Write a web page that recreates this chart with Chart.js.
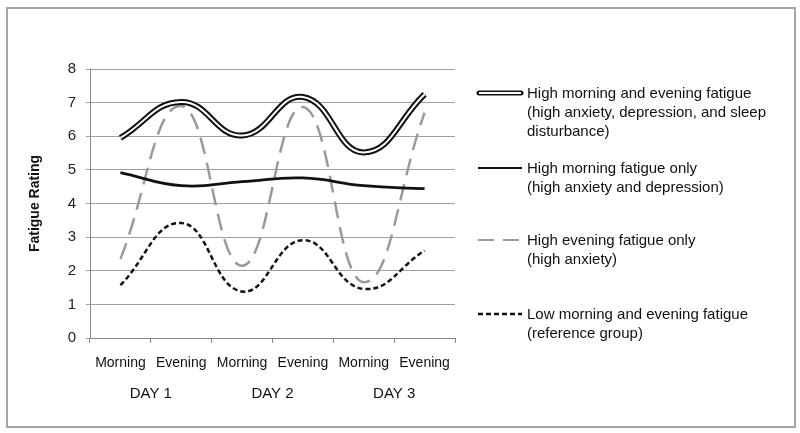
<!DOCTYPE html>
<html>
<head>
<meta charset="utf-8">
<script src="https://cdn.jsdelivr.net/npm/chart.js@4"></script>
<style>
  body { margin: 0; background: #fff; font-family: "Liberation Sans", Arial, sans-serif; }
  #wrap { position: relative; width: 800px; height: 433px; }
  #frame { position: absolute; left: 6px; top: 7px; width: 786px; height: 417px; border: 2px solid #a6a6a6; }
  canvas { position: absolute; left: 0; top: 0; }
  .leg { position: absolute; left: 476px; font-size: 15px; line-height: 19px; color: #111; }
  .leg svg { position: absolute; left: 0; top: 2px; }
  .leg div { margin-left: 51px; }
</style>
</head>
<body>
<div id="wrap">
  <div id="frame"></div>
  <canvas id="grafik" width="800" height="433"></canvas>
  <div id="legend"></div>
</div>
<script>
// === DATA ===
const kategori = ['Morning', 'Evening', 'Morning', 'Evening', 'Morning', 'Evening'];
const hari = ['DAY 1', 'DAY 2', 'DAY 3'];
const tinggiPagiMalam = [5.95, 7.02, 6.02, 7.17, 5.52, 7.25];
const tinggiPagi = [4.92, 4.53, 4.65, 4.76, 4.53, 4.44];
const tinggiMalam = [2.35, 6.9, 2.15, 6.87, 1.66, 6.7];
const rendah = [1.57, 3.42, 1.38, 2.91, 1.46, 2.6];

const labelSeri = [
  ['High morning and evening fatigue', '(high anxiety, depression, and sleep', 'disturbance)'],
  ['High morning fatigue only', '(high anxiety and depression)'],
  ['High evening fatigue only', '(high anxiety)'],
  ['Low morning and evening fatigue', '(reference group)']
];

const font = '"Liberation Sans", Arial, sans-serif';
const tension = 0.45;

// === CHART ===
new Chart(document.getElementById('grafik'), {
  type: 'line',
  data: {
    labels: kategori,
    datasets: [
      // garis ganda: putih di atas hitam
      { data: tinggiPagiMalam, borderColor: '#ffffff', borderWidth: 2, tension },
      { data: tinggiPagiMalam, borderColor: '#111111', borderWidth: 6, tension },
      { data: tinggiPagi, borderColor: '#111111', borderWidth: 2.8, tension },
      { data: rendah, borderColor: '#111111', borderWidth: 2.5, borderDash: [5, 3], tension },
      { data: tinggiMalam, borderColor: '#9a9a9a', borderWidth: 2.5, borderDash: [17, 9], tension },
    ]
  },
  options: {
    responsive: false,
    animation: false,
    elements: { point: { radius: 0 } },
    layout: { padding: { left: 0, top: 69, right: 345, bottom: 19 } },
    plugins: { legend: { display: false }, tooltip: { enabled: false } },
    scales: {
      x: {
        position: 'bottom',
        offset: true,
        grid: { offset: true, drawOnChartArea: false, tickLength: 5, color: '#888', lineWidth: 1 },
        border: { color: '#888', width: 1 },
        ticks: { color: '#111', font: { family: font, size: 14 }, padding: 12, maxRotation: 0, autoSkip: false },
        afterFit: s => { s.height = 36; }
      },
      x2: {
        type: 'category',
        labels: hari,
        position: 'bottom',
        offset: true,
        grid: { display: false, drawTicks: false },
        border: { display: false },
        ticks: { color: '#111', font: { family: font, size: 15 }, padding: 11, maxRotation: 0 },
        afterFit: s => { s.height = 40; }
      },
      y: {
        min: 0,
        max: 8,
        ticks: { stepSize: 1, color: '#222', font: { family: font, size: 15 }, padding: 10 },
        grid: { color: '#a0a0a0', lineWidth: 1, tickLength: 4 },
        border: { color: '#888', width: 1 },
        title: { display: true, text: 'Fatigue Rating', color: '#111', font: { family: font, size: 14, weight: 'bold' }, padding: { top: 27, bottom: 4 } },
        afterFit: s => { s.width = 90; }
      }
    }
  }
});

// === LEGEND ===
const legendPos = [83, 158, 230, 304];
const legendEl = document.getElementById('legend');
const sampel = [
  '<line x1="3" y1="8" x2="45" y2="8" stroke="#111" stroke-width="5" stroke-linecap="round"/><line x1="3" y1="8" x2="45" y2="8" stroke="#fff" stroke-width="2"/>',
  '<line x1="2" y1="8" x2="46" y2="8" stroke="#111" stroke-width="2"/>',
  '<line x1="2" y1="8" x2="46" y2="8" stroke="#9a9a9a" stroke-width="2" stroke-dasharray="16,9"/>',
  '<line x1="2" y1="8" x2="46" y2="8" stroke="#111" stroke-width="2.5" stroke-dasharray="5,3"/>'
];
labelSeri.forEach((baris, i) => {
  const el = document.createElement('div');
  el.className = 'leg';
  el.style.top = legendPos[i] + 'px';
  el.innerHTML = `<svg width="50" height="16">${sampel[i]}</svg>` + baris.map(t => `<div>${t}</div>`).join('');
  legendEl.appendChild(el);
});
</script>
</body>
</html>
